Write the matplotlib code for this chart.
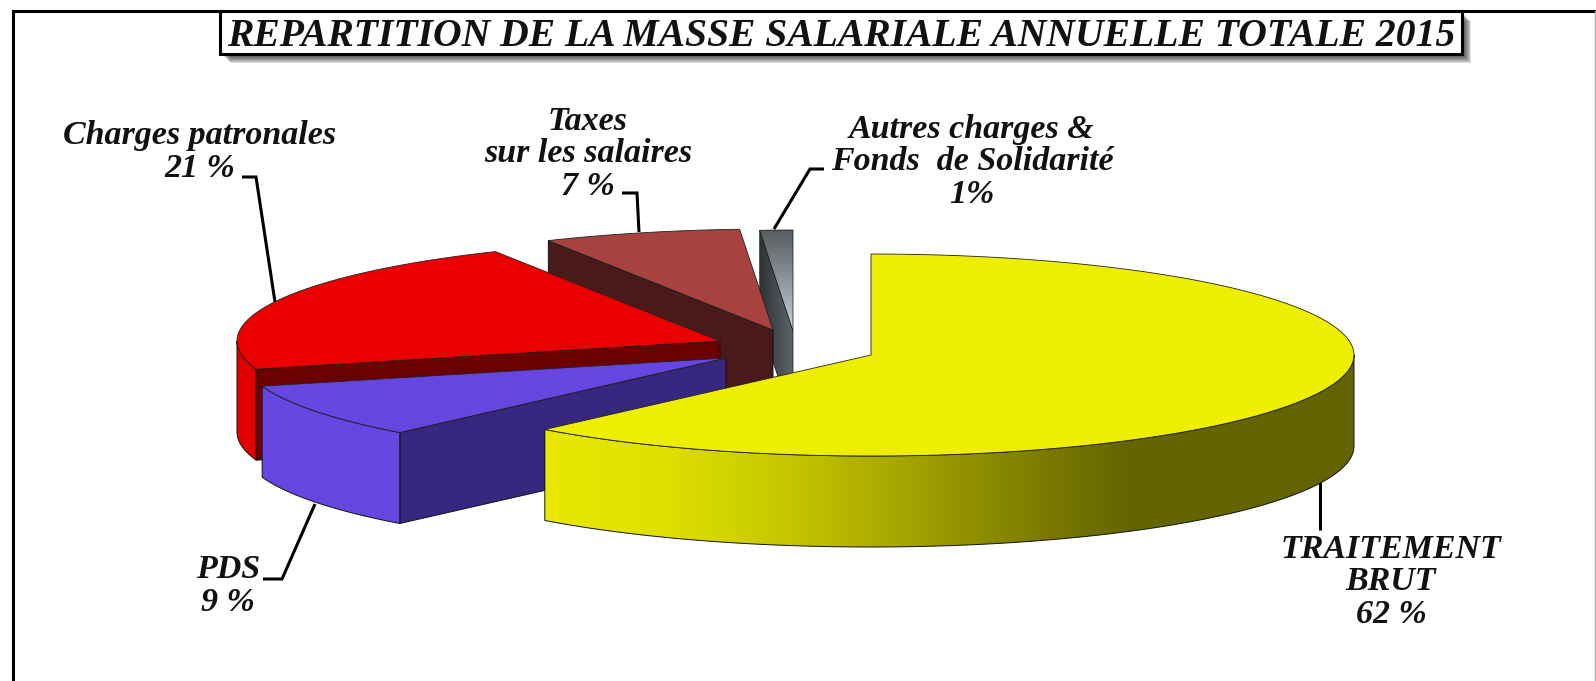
import numpy as np
import matplotlib
matplotlib.use('Agg')
import matplotlib.pyplot as plt
from matplotlib.colors import LinearSegmentedColormap
from matplotlib.patches import Polygon, Rectangle

# data, clockwise from 12 o'clock
slices = ["TRAITEMENT BRUT", "PDS", "Charges patronales", "Taxes sur les salaires", "Autres charges"]
values = [61.8, 8.7, 21.8, 6.6, 1.1]

title = "REPARTITION DE LA MASSE SALARIALE ANNUELLE TOTALE 2015"

label_texts = [
    "TRAITEMENT\nBRUT\n62 %",
    "PDS\n9 %",
    "Charges patronales\n21 %",
    "Taxes\nsur les salaires\n7 %",
    "Autres charges &\nFonds  de Solidarité\n1%",
]

# styles: exploded pie in pixel space
rx, ry, depth = 483, 101, 91
apex = [(871, 355), (726, 358), (720, 341), (773, 330), (793, 331)]
top_colors = ["#eeee00", "#6646e0", "#eb0000", "#a8423f", None]
side_colors = [None, "#38277e", "#6b0000", "#4a1a1a", None]
wall_colors = [None, "#6646e0", "#e00000", "#a8423f", None]

label_pos = [(1391, 582), (228, 586), (200, 152), (588, 154), (972, 162)]
label_size = [24.5, 24.5, 24.5, 24.5, 24.5]
leaders = [
    [(1320, 482), (1320, 530)],
    [(263, 579), (282, 579), (315, 504)],
    [(242, 177), (256, 177), (275, 302)],
    [(622, 193), (637, 193), (639, 232)],
    [(824, 169), (810, 169), (774, 229)],
]

plt.rcParams['font.family'] = ['Liberation Serif', 'DejaVu Serif']

fig = plt.figure(figsize=(15.96, 6.81), dpi=100)
ax = fig.add_axes([0, 0, 1, 1])


def rim(c, a, b, n=120):
    t = np.radians(np.linspace(a, b, n))
    return np.column_stack([c[0] + rx * np.sin(t), c[1] - ry * np.cos(t)])


def gradient(poly_xy, colors, vertical=False, zorder=2):
    # fill a polygon with a linear gradient over its own bounding box
    cmap = LinearSegmentedColormap.from_list("g", colors)
    x0, y0 = poly_xy.min(axis=0)
    x1, y1 = poly_xy.max(axis=0)
    g = np.linspace(0, 1, 256).reshape(-1, 1) if vertical else np.linspace(0, 1, 256).reshape(1, -1)
    im = ax.imshow(g, cmap=cmap, extent=(x0, x1, y1, y0), aspect='auto', zorder=zorder)
    p = Polygon(poly_xy, closed=True, transform=ax.transData, fill=False, edgecolor='none')
    ax.add_patch(p)
    im.set_clip_path(p)


def outline(xy, z, lw=0.7, color='#111111'):
    ax.add_patch(Polygon(xy, closed=True, fill=False, edgecolor=color, linewidth=lw, zorder=z))


edges = np.concatenate([[0], np.cumsum(values)]) / np.sum(values) * 360

# painted back to front
for i in [4, 3, 2, 1, 0]:
    c = np.array(apex[i], dtype=float)
    a, b = edges[i], edges[i + 1]
    z = 10 + (4 - i) * 3
    arc = rim(c, a, b)

    # wall below the first radial edge
    if i > 0:
        p0 = arc[0]
        wall = np.array([p0, c, c + [0, depth], p0 + [0, depth]])
        if i == 4:
            gradient(wall, ["#2e3434", "#5f666a"], zorder=z)
            outline(wall, z + 0.1, lw=0.5)
        else:
            ax.add_patch(Polygon(wall, closed=True, facecolor=side_colors[i], edgecolor='#111111', linewidth=0.7, zorder=z))

    # outer wall on the front half
    fa, fb = max(a, 90), min(b, 270)
    if fa < fb:
        front = rim(c, fa, fb)
        wall = np.vstack([front, (front + [0, depth])[::-1]])
        if i == 0:
            gradient(wall, ["#e8e800", "#e0e000", "#c9c900", "#a8a800", "#858500", "#666600", "#636300", "#636300"], zorder=z)
            outline(wall, z + 0.1)
        else:
            ax.add_patch(Polygon(wall, closed=True, facecolor=wall_colors[i], edgecolor='#111111', linewidth=0.7, zorder=z))

    # top face
    top = np.vstack([c, arc])
    if i == 4:
        gradient(top, ["#565c60", "#c8d0d8"], vertical=True, zorder=z + 1)
        outline(top, z + 1.1, lw=0.5)
    else:
        ax.add_patch(Polygon(top, closed=True, facecolor=top_colors[i], edgecolor='#222222', linewidth=0.6, zorder=z + 1))

# leader lines
for pts in leaders:
    xs, ys = zip(*pts)
    ax.plot(xs, ys, color='black', lw=2.2, solid_capstyle='butt', solid_joinstyle='miter', zorder=6)

# labels
for txt, pos, size in zip(label_texts, label_pos, label_size):
    ax.text(pos[0], pos[1], txt, ha='center', va='center', fontsize=size, fontweight='bold',
            fontstyle='italic', color='#111111', linespacing=1.08, zorder=40)

# frame
ax.plot([13, 13], [681, 11], color='black', lw=2.2, zorder=1)
ax.plot([13, 1596], [11, 11], color='black', lw=2.2, zorder=1)
ax.plot([1595, 1595], [11, 681], color='#b0b0b0', lw=1, zorder=1)

# title box with its soft shadow
for k in range(9, 0, -1):
    ax.add_patch(Rectangle((221 + k, 12 + k), 1241, 42, facecolor='#303030', alpha=0.16,
                           edgecolor='none', zorder=44))
ax.add_patch(Rectangle((220, 11), 1242, 43, facecolor='white', edgecolor='black', linewidth=2.2, zorder=45))
ax.text(841, 31.5, title, ha='center', va='center_baseline', fontsize=28.5, fontweight='bold',
        fontstyle='italic', color='#111111', zorder=46)

ax.set_xlim(0, 1596)
ax.set_ylim(681, 0)
ax.axis('off')
fig.savefig("out.png", dpi=100)
